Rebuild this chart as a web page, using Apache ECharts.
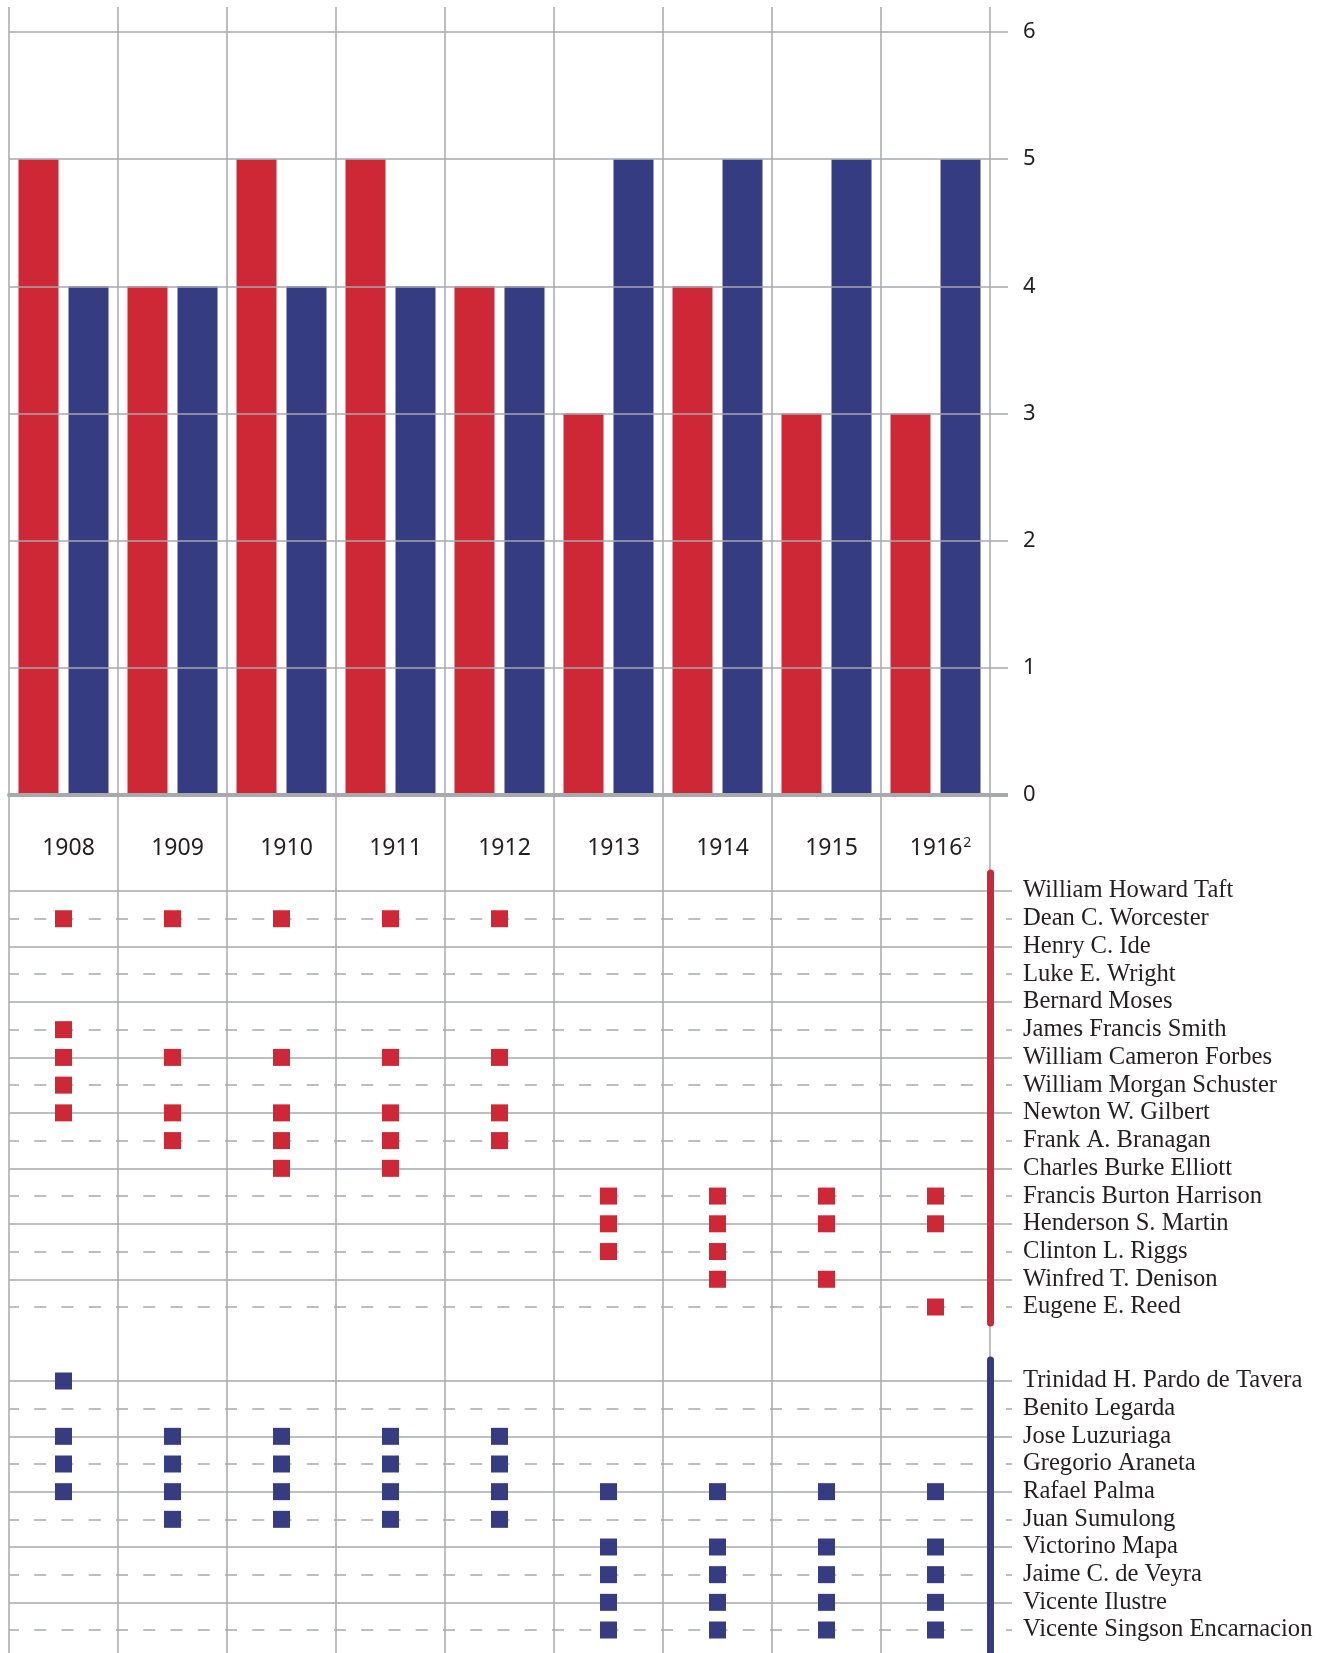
<!DOCTYPE html>
<html>
<head>
<meta charset="utf-8">
<script src="https://cdn.jsdelivr.net/npm/echarts@6/dist/echarts.min.js"></script>
<style>
  html, body { margin: 0; padding: 0; background: #fff; }
  #chart { width: 1328px; height: 1653px; }
</style>
</head>
<body>
<div id="chart"></div>
<script>
var years = ['1908', '1909', '1910', '1911', '1912', '1913', '1914', '1915', '1916']
var footnoteYear = '1916'
var valueTicks = [0, 1, 2, 3, 4, 5, 6]

// bar heights
var redCount = [5, 4, 5, 5, 4, 3, 4, 3, 3]
var blueCount = [4, 4, 4, 4, 4, 5, 5, 5, 5]

var redNames = [
  'William Howard Taft', 'Dean C. Worcester', 'Henry C. Ide', 'Luke E. Wright',
  'Bernard Moses', 'James Francis Smith', 'William Cameron Forbes',
  'William Morgan Schuster', 'Newton W. Gilbert', 'Frank A. Branagan',
  'Charles Burke Elliott', 'Francis Burton Harrison', 'Henderson S. Martin',
  'Clinton L. Riggs', 'Winfred T. Denison', 'Eugene E. Reed'
]
var redServed = [
  [],
  ['1908', '1909', '1910', '1911', '1912'],
  [],
  [],
  [],
  ['1908'],
  ['1908', '1909', '1910', '1911', '1912'],
  ['1908'],
  ['1908', '1909', '1910', '1911', '1912'],
  ['1909', '1910', '1911', '1912'],
  ['1910', '1911'],
  ['1913', '1914', '1915', '1916'],
  ['1913', '1914', '1915', '1916'],
  ['1913', '1914'],
  ['1914', '1915'],
  ['1916']
]

var blueNames = [
  'Trinidad H. Pardo de Tavera', 'Benito Legarda', 'Jose Luzuriaga',
  'Gregorio Araneta', 'Rafael Palma', 'Juan Sumulong', 'Victorino Mapa',
  'Jaime C. de Veyra', 'Vicente Ilustre', 'Vicente Singson Encarnacion'
]
var blueServed = [
  ['1908'],
  [],
  ['1908', '1909', '1910', '1911', '1912'],
  ['1908', '1909', '1910', '1911', '1912'],
  ['1908', '1909', '1910', '1911', '1912', '1913', '1914', '1915', '1916'],
  ['1909', '1910', '1911', '1912'],
  ['1913', '1914', '1915', '1916'],
  ['1913', '1914', '1915', '1916'],
  ['1913', '1914', '1915', '1916'],
  ['1913', '1914', '1915', '1916']
]

var RED = '#ce2735'
var BLUE = '#363c82'
var GRAY = '#a7a9ac'
var TEXT = '#231f20'
var sansFont = '"Noto Sans", Lato, sans-serif'
var serifFont = '"Liberation Serif", "DejaVu Serif", serif'

function toPoints(names, served) {
  var pts = []
  names.forEach(function (name, i) {
    served[i].forEach(function (y) { pts.push([y, name]) })
  })
  return pts
}

var even = function (i) { return i % 2 === 0 }
var odd = function (i) { return i % 2 === 1 }

var hiddenX = function (grid) {
  return {
    type: 'category', gridIndex: grid, data: years, boundaryGap: true,
    axisLine: { show: false }, axisTick: { show: false },
    axisLabel: { show: false }, splitLine: { show: false }
  }
}

// two y axes per name block: solid lines on even rows, dashed on odd rows
function rowAxes(grid, names) {
  return [
    {
      type: 'category', gridIndex: grid, data: names, inverse: true,
      boundaryGap: false, position: 'right',
      axisLine: { show: false },
      axisTick: { show: true, interval: even, length: 22, lineStyle: { color: GRAY, width: 1.5 } },
      axisLabel: {
        show: true, interval: 0, margin: 33, color: TEXT,
        fontFamily: serifFont, fontSize: 24.6
      },
      splitLine: { show: true, interval: even, lineStyle: { color: GRAY, width: 1.5 } }
    },
    {
      type: 'category', gridIndex: grid, data: names, inverse: true,
      boundaryGap: false, position: 'right',
      axisLine: { show: false },
      axisTick: { show: true, interval: odd, length: 22, lineStyle: { color: GRAY, width: 1.5, type: [0, 16, 6, 100] } },
      axisLabel: { show: false },
      splitLine: { show: true, interval: odd, lineStyle: { color: GRAY, width: 1.5, type: [12, 15.25], dashOffset: 2 } }
    }
  ]
}

function barAxis(grid, color) {
  return {
    type: 'value', gridIndex: grid, position: 'right', z: 6,
    axisLine: { show: true, lineStyle: { color: color, width: 7 } },
    axisTick: { show: false }, axisLabel: { show: false }, splitLine: { show: false }
  }
}

var redRows = rowAxes(2, redNames)
var blueRows = rowAxes(4, blueNames)

var chart = echarts.init(document.getElementById('chart'))

chart.setOption({
  animation: false,
  backgroundColor: '#fff',
  grid: [
    { left: 9, width: 981, top: 7, bottom: 0 },          // vertical column lines
    { left: 9, width: 981, top: 32, height: 763 },       // bars
    { left: 9, width: 981, top: 891, height: 416 },      // red names
    { left: 9, width: 981, top: 873, height: 450 },      // red bracket
    { left: 9, width: 981, top: 1381, height: 249 },     // blue names
    { left: 9, width: 981, top: 1360, bottom: 0 }        // blue bracket
  ],
  xAxis: [
    {
      type: 'category', gridIndex: 0, data: years, boundaryGap: true,
      axisLine: { show: false }, axisTick: { show: false }, axisLabel: { show: false },
      splitLine: { show: true, interval: 0, lineStyle: { color: GRAY, width: 1.5 } }
    },
    {
      type: 'category', gridIndex: 1, data: years, boundaryGap: true, z: 5,
      axisLine: { show: true, lineStyle: { color: GRAY, width: 4 } },
      axisTick: { show: false },
      axisLabel: {
        show: true, interval: 0, margin: 53, verticalAlign: 'middle',
        padding: [0, 0, 0, 10],
        color: TEXT, fontFamily: sansFont, fontSize: 23,
        formatter: function (v) {
          return v === footnoteYear ? v + '{s|2}' : v
        },
        rich: {
          s: { fontSize: 14, fontFamily: sansFont, color: TEXT, padding: [0, 0, 10, 1] }
        }
      },
      splitLine: { show: false }
    },
    hiddenX(2), hiddenX(3), hiddenX(4), hiddenX(5)
  ],
  yAxis: [
    { type: 'value', gridIndex: 0, show: false },
    {
      type: 'value', gridIndex: 1, min: 0, max: 6, interval: 1, position: 'right', z: 5,
      axisLine: { show: false },
      axisTick: { show: true, length: 18, lineStyle: { color: GRAY, width: 1.5 } },
      axisLabel: {
        show: true, margin: 33, color: TEXT, fontFamily: sansFont, fontSize: 22,
        customValues: valueTicks
      },
      splitLine: { show: true, lineStyle: { color: GRAY, width: 1.5 } }
    },
    {
      type: 'value', gridIndex: 1, min: 0, max: 6, position: 'right', z: 5,
      axisLine: { show: false },
      axisTick: { show: true, customValues: [0], length: 18, lineStyle: { color: GRAY, width: 4 } },
      axisLabel: { show: false }, splitLine: { show: false }
    },
    redRows[0], redRows[1],
    barAxis(3, RED),
    blueRows[0], blueRows[1],
    barAxis(5, BLUE)
  ],
  series: [
    {
      name: 'red', type: 'bar', xAxisIndex: 1, yAxisIndex: 1,
      barWidth: 40, barGap: '25%', itemStyle: { color: RED }, data: redCount
    },
    {
      name: 'blue', type: 'bar', xAxisIndex: 1, yAxisIndex: 1,
      barWidth: 40, barGap: '25%', itemStyle: { color: BLUE }, data: blueCount
    },
    {
      name: 'red members', type: 'scatter', xAxisIndex: 2, yAxisIndex: 3,
      symbol: 'rect', symbolSize: 17, itemStyle: { color: RED, opacity: 1 },
      data: toPoints(redNames, redServed)
    },
    {
      name: 'blue members', type: 'scatter', xAxisIndex: 4, yAxisIndex: 6,
      symbol: 'rect', symbolSize: 17, itemStyle: { color: BLUE, opacity: 1 },
      data: toPoints(blueNames, blueServed)
    }
  ]
})
</script>
</body>
</html>
